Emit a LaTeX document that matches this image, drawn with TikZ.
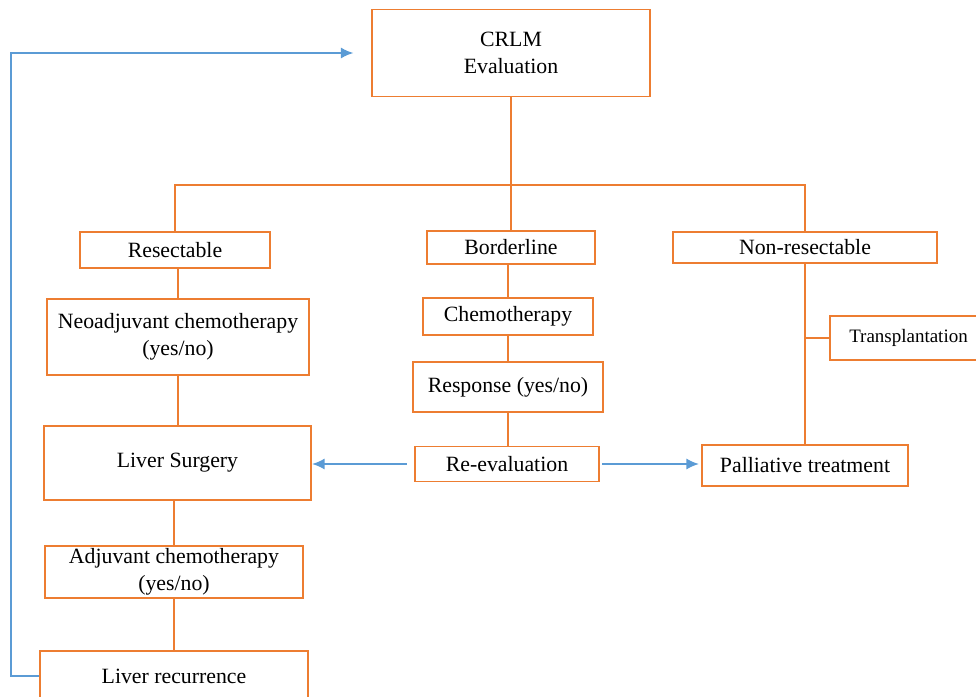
\documentclass[tikz,border=0pt]{standalone}
\usepackage{fontspec}
\usetikzlibrary{arrows.meta}
\setmainfont{Liberation Serif}
\definecolor{boxorange}{RGB}{237,125,49}
\definecolor{flowblue}{RGB}{91,155,213}
\tikzset{
  box/.style={draw=boxorange,line width=1.4pt,align=center,inner sep=0pt,
    font=\fontsize{15.5}{19}\selectfont},
  link/.style={draw=boxorange,line width=1.4pt},
  flow/.style={draw=flowblue,line width=1.4pt,-{Latex[length=9pt,width=8pt]}}
}
\begin{document}
\begin{tikzpicture}[x=0.025cm,y=-0.025cm]
\useasboundingbox (0,0) rectangle (976,697);
\node[box,minimum width=6.925cm,minimum height=2.175cm] (CRLM) at (511,53) {CRLM\\Evaluation};
\node[box,minimum width=4.75cm,minimum height=0.9cm] (Res) at (175,250) {Resectable};
\node[box,minimum width=4.2cm,minimum height=0.825cm] (Bor) at (511,247.5) {Borderline};
\node[box,minimum width=6.6cm,minimum height=0.775cm] (Non) at (805,247.5) {Non-resectable};
\node[box,minimum width=6.525cm,minimum height=1.9cm] (Neo) at (178,337) {Neoadjuvant chemotherapy\\(yes/no)};
\node[box,minimum width=4.225cm,minimum height=0.925cm] (Chemo) at (508,316.5) {Chemotherapy};
\node[box,minimum width=4.725cm,minimum height=1.25cm] (Resp) at (508,387) {Response (yes/no)};
\node[box,minimum width=4.6cm,minimum height=0.875cm] (Reev) at (507,464) {Re-evaluation};
\node[box,minimum width=6.675cm,minimum height=1.85cm] (Surg) at (177.5,463) {Liver Surgery};
\node[box,minimum width=5.15cm,minimum height=1.025cm] (Pal) at (805,465.5) {Palliative treatment};
\node[box,minimum width=3.925cm,minimum height=1.1cm,font=\fontsize{13.5}{16}\selectfont] (Tra) at (908.5,338) {Transplantation};
\node[box,minimum width=6.45cm,minimum height=1.3cm] (Adj) at (174,572) {Adjuvant chemotherapy\\(yes/no)};
\node[box,minimum width=6.675cm,minimum height=1.25cm] (Rec) at (174,676) {Liver recurrence};
\coordinate (bar) at (511,185);
\coordinate (loop) at (11,400);
% tree
\draw[link] (CRLM.south) -- (Bor.north);
\draw[link] (Res.north) |- (bar) -| (Non.north);
\draw[link] (Neo.north) -- (Neo.north |- Res.south);
\draw[link] (Neo.south) -- (Neo.south |- Surg.north);
\draw[link] (Adj.north) -- (Adj.north |- Surg.south);
\draw[link] (Rec.north) -- (Rec.north |- Adj.south);
\draw[link] (Chemo.north) -- (Chemo.north |- Bor.south);
\draw[link] (Chemo.south) -- (Chemo.south |- Resp.north);
\draw[link] (Resp.south) -- (Resp.south |- Reev.north);
\draw[link] (Non.south) -- (Pal.north);
\draw[link] (Tra.west) -- (Tra.west -| Non.south);
% arrows
\draw[flow,shorten <=0.175cm] (Reev.west) -- (Reev.west -| Surg.east);
\draw[flow,shorten <=0.05cm,shorten >=0.05cm] (Reev.east) -- (Reev.east -| Pal.west);
\draw[flow,shorten >=0.45cm] (Rec.west) -| (loop) |- (CRLM.west);
\end{tikzpicture}
\end{document}
